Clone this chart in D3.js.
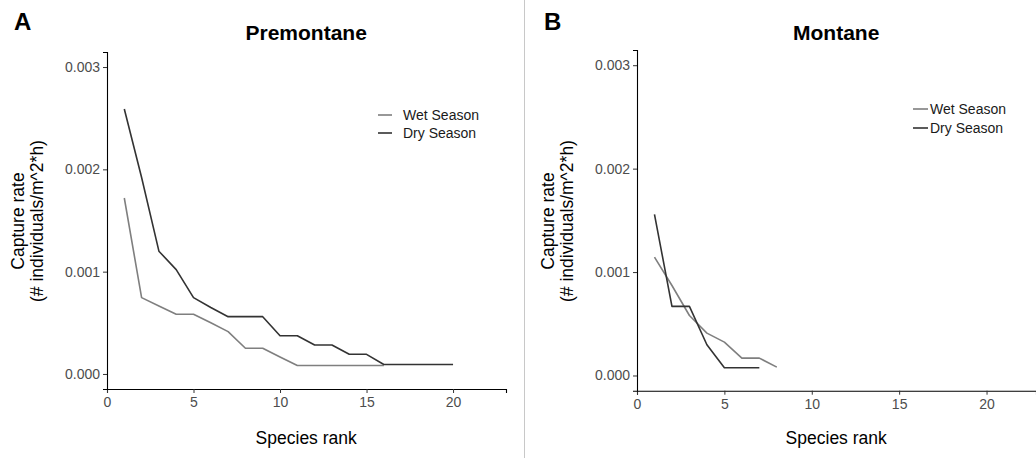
<!DOCTYPE html>
<html>
<head>
<meta charset="utf-8">
<script src="https://cdn.jsdelivr.net/npm/d3@7"></script>
<style>
  body { margin: 0; background: #fff; }
  svg { display: block; font-family: "Liberation Sans", Arial, sans-serif; }
</style>
</head>
<body>
<svg></svg>
<script>
// species rank abundance, capture rates
const seasons = ["Wet Season", "Dry Season"];
const seasonColors = ["#7f7f7f", "#333333"];

const premontaneWet = [0.00172, 0.000746, 0.000665, 0.000583, 0.000583, 0.0005, 0.000414, 0.000251,
  0.000251, 0.000166, 0.000083, 0.000083, 0.000083, 0.000083, 0.000083, 0.000083];
const premontaneDry = [0.00259, 0.00192, 0.0012, 0.00102, 0.000746, 0.00065, 0.00056, 0.00056, 0.00056,
  0.000374, 0.000374, 0.000283, 0.000283, 0.000192, 0.000192, 0.000093, 0.000093, 0.000093, 0.000093, 0.000093];

const montaneWet = [0.001145, 0.00087, 0.00058, 0.00041, 0.000323, 0.000168, 0.000168, 0.000081];
const montaneDry = [0.001558, 0.000668, 0.000668, 0.000297, 0.000075, 0.000075, 0.000075];

const xTicks = [0, 5, 10, 15, 20];
const yTicks = [0, 0.001, 0.002, 0.003];

const width = 1036, height = 458;
const svg = d3.select("svg").attr("width", width).attr("height", height);

// thin divider between the two panels
svg.append("line")
  .attr("x1", 524.5).attr("x2", 524.5)
  .attr("y1", 0).attr("y2", height)
  .attr("stroke", "#c8c8c8").attr("stroke-width", 1);

const panels = [
  { tag: "A", title: "Premontane", series: [premontaneWet, premontaneDry],
    left: 107, right: 506, top: 52, bottom: 389, xMax: 23.06,
    legend: { x1: 378, x2: 392, tx: 403, y: [115, 133] } },
  { tag: "B", title: "Montane", series: [montaneWet, montaneDry],
    left: 637, right: 1036, top: 50, bottom: 390.7, xMax: 22.83,
    legend: { x1: 913, x2: 928, tx: 930, y: [109, 128] } }
];

function drawPanel(p) {
  const g = svg.append("g");
  const x = d3.scaleLinear().domain([0, p.xMax]).range([p.left, p.right]);
  const y = d3.scaleLinear().domain([-0.000147, 0.003147]).range([p.bottom, p.top]);

  // axes
  const xAxis = g.append("g").attr("transform", `translate(0,${p.bottom})`)
    .call(d3.axisBottom(x).tickValues(xTicks).tickSize(4).tickPadding(3).tickFormat(d3.format("d")));
  const yAxis = g.append("g").attr("transform", `translate(${p.left},0)`)
    .call(d3.axisLeft(y).tickValues(yTicks).tickSize(4).tickPadding(3).tickFormat(d3.format(".3f")));
  [xAxis, yAxis].forEach(a => {
    a.select(".domain").attr("stroke", "#000").attr("stroke-width", 1.1);
    a.selectAll(".tick line").attr("stroke", "#333");
    a.selectAll(".tick text").attr("fill", "#4d4d4d").style("font-size", "14px");
  });
  xAxis.selectAll(".tick text").attr("dy", "0.8em");

  // series lines
  const line = d3.line().x((d, i) => x(i + 1)).y(d => y(d));
  p.series.forEach((vals, k) => {
    g.append("path").datum(vals)
      .attr("d", line)
      .attr("fill", "none")
      .attr("stroke", seasonColors[k])
      .attr("stroke-width", 1.6)
      .attr("stroke-linejoin", "round");
  });

  // legend
  seasons.forEach((s, k) => {
    g.append("line")
      .attr("x1", p.legend.x1).attr("x2", p.legend.x2)
      .attr("y1", p.legend.y[k]).attr("y2", p.legend.y[k])
      .attr("stroke", seasonColors[k]).attr("stroke-width", 1.6);
    g.append("text")
      .attr("x", p.legend.tx).attr("y", p.legend.y[k])
      .attr("dy", "0.35em")
      .style("font-size", "14px").attr("fill", "#1a1a1a")
      .text(s);
  });

  // titles
  g.append("text")
    .attr("x", (p.left + p.right) / 2 - 0.3).attr("y", 33).attr("dy", "0.35em")
    .attr("text-anchor", "middle").style("font-size", "21px").style("font-weight", "bold")
    .text(p.title);
  g.append("text")
    .attr("x", p.tag === "A" ? 14 : 544).attr("y", 30)
    .style("font-size", "24px").style("font-weight", "bold")
    .text(p.tag);
  g.append("text")
    .attr("x", (p.left + p.right) / 2 - 0.3).attr("y", 438).attr("dy", "0.35em")
    .attr("text-anchor", "middle").style("font-size", "17.5px")
    .text("Species rank");

  const yt = g.append("text")
    .attr("transform", `translate(${p.left - 89},${221}) rotate(-90)`)
    .attr("text-anchor", "middle").style("font-size", "17.5px");
  yt.append("tspan").attr("x", 0).attr("dy", "0.35em").text("Capture rate");
  yt.append("tspan").attr("x", 0).attr("dy", "1.05em").text("(# individuals/m^2*h)");
}

panels.forEach(drawPanel);
</script>
</body>
</html>
